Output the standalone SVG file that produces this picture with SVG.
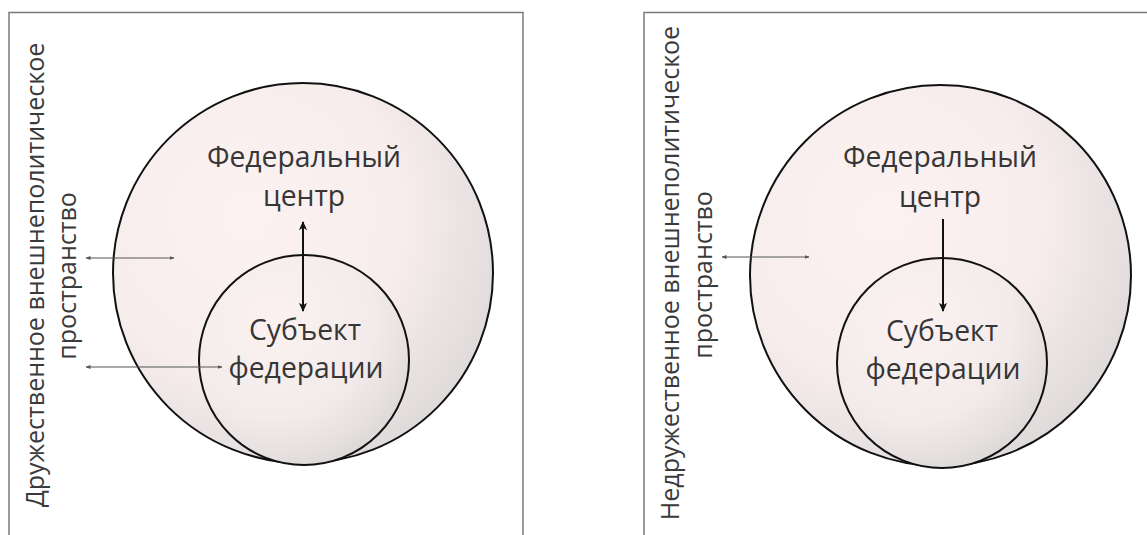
<svg xmlns="http://www.w3.org/2000/svg" width="1147" height="535" viewBox="0 0 1147 535">
<style>
.frame{fill:none;stroke:#7a7a7a;stroke-width:1.5}
.circ{stroke:#111;stroke-width:2}
.big{fill:url(#gBig)}
.small{fill:url(#gSmall)}
.lbl{font-family:"Open Sans","Noto Sans",sans-serif;font-size:28.3px;fill:#363636;text-anchor:middle}
.vlbl{font-family:"Open Sans","Noto Sans",sans-serif;font-size:25px;fill:#3a3a3a;text-anchor:middle}
.thin{stroke:#555;stroke-width:1.2;fill:none;marker-start:url(#tS);marker-end:url(#tE)}
.thick{stroke:#111;stroke-width:2;fill:none}
</style>
<defs>
<radialGradient id="gBig" cx="0.35" cy="0.35" r="0.75">
<stop offset="0" stop-color="#fdf2f2"/>
<stop offset="0.55" stop-color="#f8eded"/>
<stop offset="1" stop-color="#dcd8d8"/>
</radialGradient>
<radialGradient id="gSmall" cx="0.35" cy="0.3" r="0.8">
<stop offset="0" stop-color="#fbf1f1"/>
<stop offset="0.6" stop-color="#f3ebeb"/>
<stop offset="1" stop-color="#dad6d6"/>
</radialGradient>
<marker id="tE" viewBox="0 0 10 10" refX="9" refY="5" markerWidth="5" markerHeight="5" markerUnits="userSpaceOnUse" orient="auto">
<path d="M0,1 L10,5 L0,9 Z" fill="#555"/>
</marker>
<marker id="tS" viewBox="0 0 10 10" refX="1" refY="5" markerWidth="5" markerHeight="5" markerUnits="userSpaceOnUse" orient="auto">
<path d="M10,1 L0,5 L10,9 Z" fill="#555"/>
</marker>
<marker id="kE" viewBox="0 0 10 10" refX="9" refY="5" markerWidth="9" markerHeight="9" markerUnits="userSpaceOnUse" orient="auto">
<path d="M0,0.5 L10,5 L0,9.5 L2.5,5 Z" fill="#111"/>
</marker>
<marker id="kS" viewBox="0 0 10 10" refX="1" refY="5" markerWidth="9" markerHeight="9" markerUnits="userSpaceOnUse" orient="auto">
<path d="M10,0.5 L0,5 L10,9.5 L7.5,5 Z" fill="#111"/>
</marker>
</defs>
<rect width="1147" height="535" fill="#ffffff"/>

<g id="panel-left">
<rect class="frame" x="9" y="12.5" width="514" height="540"/>
<g id="left-space-label">
<text class="vlbl" transform="translate(44,275) rotate(-90)">Дружественное внешнеполитическое</text>
<text class="vlbl" transform="translate(76,276) rotate(-90)">пространство</text>
</g>
<g id="left-federal-center">
<circle class="circ big" cx="303" cy="273" r="190"/>
<text class="lbl" x="304" y="167">Федеральный</text>
<text class="lbl" x="304" y="206">центр</text>
</g>
<g id="left-subject">
<circle class="circ small" cx="304" cy="360" r="105"/>
<text class="lbl" x="305" y="340">Субъект</text>
<text class="lbl" x="306" y="378">федерации</text>
</g>
</g>

<g id="panel-right">
<rect class="frame" x="644" y="12.5" width="520" height="540"/>
<g id="right-space-label">
<text class="vlbl" transform="translate(679,273) rotate(-90)">Недружественное внешнеполитическое</text>
<text class="vlbl" transform="translate(712,275) rotate(-90)">пространство</text>
</g>
<g id="right-federal-center">
<circle class="circ big" cx="940.5" cy="275.5" r="190.5"/>
<text class="lbl" x="940" y="167">Федеральный</text>
<text class="lbl" x="940" y="207">центр</text>
</g>
<g id="right-subject">
<circle class="circ small" cx="942" cy="363" r="105"/>
<text class="lbl" x="942" y="341">Субъект</text>
<text class="lbl" x="943" y="379">федерации</text>
</g>
</g>

<g id="connectors">
<line class="thin" x1="86" y1="258" x2="174" y2="258"/>
<line class="thin" x1="86" y1="367" x2="222" y2="367"/>
<line class="thick" x1="303" y1="222" x2="303" y2="311" marker-start="url(#kS)" marker-end="url(#kE)"/>
<line class="thin" x1="722" y1="257" x2="809" y2="257"/>
<line class="thick" x1="943" y1="219" x2="943" y2="311" marker-end="url(#kE)"/>
</g>
</svg>
